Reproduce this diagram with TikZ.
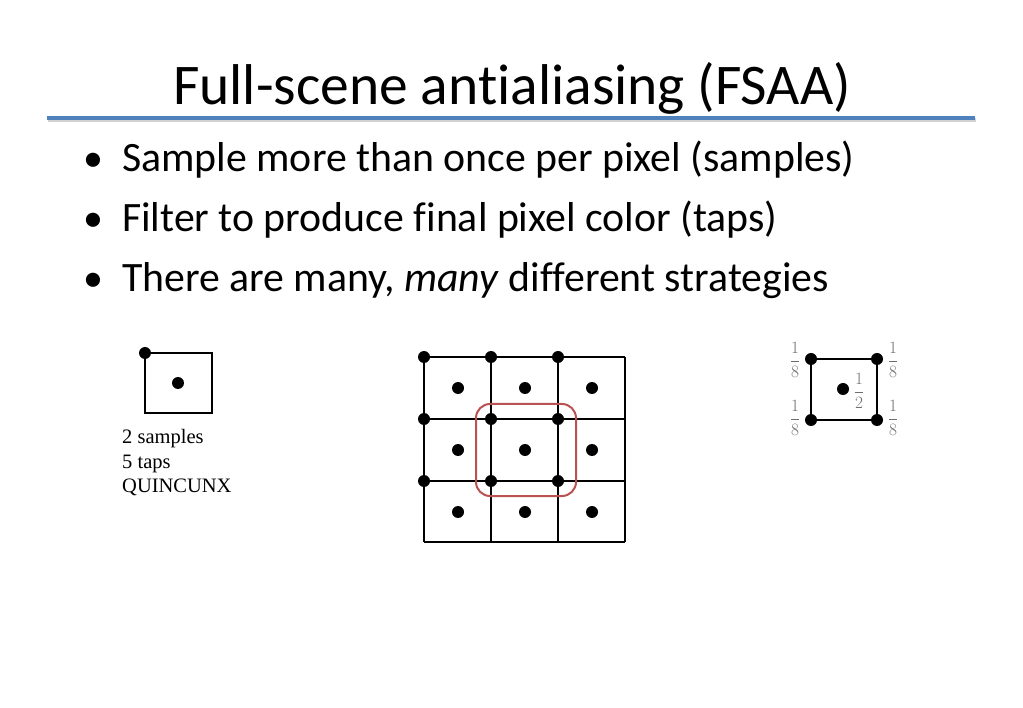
\documentclass[tikz,border=0pt]{standalone}
\usepackage{fontspec}
\setmainfont{Carlito}[Ligatures={NoCommon}]
\newfontfamily\timesfont{Liberation Serif}
\usepackage{amsmath}
\definecolor{titleblue}{RGB}{79,129,189}
\definecolor{boxred}{RGB}{185,82,80}
\definecolor{fracgray}{RGB}{110,110,110}
\tikzset{
  dot/.style={fill=black},
  gridline/.style={line width=2.4pt},
  bullettext/.style={anchor=base west,inner sep=0pt,font=\fontsize{41.8}{48}\selectfont},
  fracl/.style={inner sep=0pt,text=fracgray,font=\fontsize{17}{19}\selectfont}
}
\begin{document}
\begin{tikzpicture}[x=1pt,y=-1pt]
\useasboundingbox[fill=white] (0,0) rectangle (1023,708);
% title
\node[anchor=base west,inner sep=0pt,font=\fontsize{57.5}{62}\selectfont] (title) at (173,105) {Full-scene antialiasing (FSAA)};
\draw[line width=4pt,black!18] (48,120.5) -- (976,120.5);
\draw[line width=4pt,titleblue] (47,118) -- (975,118);
% bullets
\foreach \yy/\nm in {172/b1,232/b2,292/b3}{
  \node[anchor=base,inner sep=0pt,font=\fontsize{40}{48}\selectfont] (\nm) at (93,\yy) {•};
}
\node[bullettext] (t1) at (122,172) {Sample more than once per pixel (samples)};
\node[bullettext] (t2) at (122,232) {Filter to produce final pixel color (taps)};
\node[bullettext] (t3) at (122,292) {There are many, \textit{many} different strategies};
% left diagram
\draw[line width=2pt] (145,353) rectangle (212,413);
\fill[dot] (145,353) circle (6);
\fill[dot] (178,383) circle (6);
\node[anchor=base west,inner sep=0pt,font=\timesfont\fontsize{20.5}{25}\selectfont] (q1) at (122,443) {2 samples};
\node[anchor=base west,inner sep=0pt,font=\timesfont\fontsize{20.5}{25}\selectfont] (q2) at (122,468) {5 taps};
\node[anchor=base west,inner sep=0pt,font=\timesfont\fontsize{20.5}{25}\selectfont] (q3) at (122,493) {QUINCUNX};
% grid
\foreach \xx in {424,491,558,625}{ \draw[gridline] (\xx,357) -- (\xx,542); }
\foreach \yy in {357,419,481,542}{ \draw[gridline] (424,\yy) -- (625,\yy); }
\draw[line width=2pt,boxred,rounded corners=14pt] (476,404) rectangle (576,496);
\foreach \xx in {424,491,558}{ \foreach \yy in {357,419,481}{ \fill[dot] (\xx,\yy) circle (6); } }
\foreach \xx in {458,525,592}{ \foreach \yy in {388,450,512}{ \fill[dot] (\xx,\yy) circle (6); } }
% right diagram
\draw[line width=2.4pt] (811,359) rectangle (877,420);
\foreach \xx in {811,877}{ \foreach \yy in {359,420}{ \fill[dot] (\xx,\yy) circle (6); } }
\fill[dot] (843,389) circle (6);
\node[fracl] (f1) at (795,360) {$\dfrac{1}{8}$};
\node[fracl] (f2) at (893,360) {$\dfrac{1}{8}$};
\node[fracl] (f3) at (795,418) {$\dfrac{1}{8}$};
\node[fracl] (f4) at (893,418) {$\dfrac{1}{8}$};
\node[fracl] (f5) at (859,391) {$\dfrac{1}{2}$};
\end{tikzpicture}
\end{document}
